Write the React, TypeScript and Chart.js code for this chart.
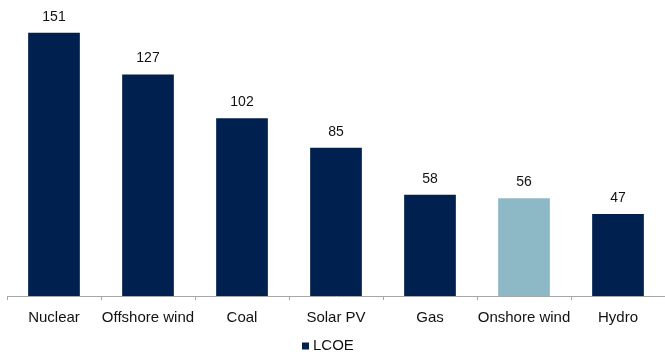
import React, { useEffect, useRef } from "react";
import { Chart, registerables } from "chart.js";

Chart.register(...registerables);

const categories = ["Nuclear", "Offshore wind", "Coal", "Solar PV", "Gas", "Onshore wind", "Hydro"];
const lcoeValues = [151, 127, 102, 85, 58, 56, 47];
const seriesName = "LCOE";

const NAVY = "#002050";
const LIGHT_BLUE = "#8db9c7";
const highlighted = "Onshore wind";
const FONT = "'Liberation Sans', Arial, sans-serif";

// Writes each bar's value centred above it
const valueLabels = {
  id: "valueLabels",
  afterDatasetsDraw(chart: any) {
    const ctx = chart.ctx;
    const meta = chart.getDatasetMeta(0);
    ctx.save();
    ctx.font = `14px ${FONT}`;
    ctx.fillStyle = "#111111";
    ctx.textAlign = "center";
    ctx.textBaseline = "middle";
    meta.data.forEach((bar: any, i: number) => {
      ctx.fillText(String(chart.data.datasets[0].data[i]), bar.x, bar.y - 16);
    });
    ctx.restore();
  },
};

// Small square key with the series name, under the axis labels
const bottomLegend = {
  id: "bottomLegend",
  afterDraw(chart: any) {
    const ctx = chart.ctx;
    ctx.save();
    ctx.font = `15px ${FONT}`;
    const label = chart.data.datasets[0].label;
    const box = 7;
    const gap = 4;
    const x0 = 302;
    const cy = 346;
    ctx.fillStyle = NAVY;
    ctx.fillRect(x0, cy - box / 2, box, box);
    ctx.fillStyle = "#111111";
    ctx.textAlign = "left";
    ctx.textBaseline = "middle";
    ctx.fillText(label, x0 + box + gap, cy);
    ctx.restore();
  },
};

export default function App() {
  const canvasRef = useRef<HTMLCanvasElement | null>(null);

  useEffect(() => {
    if (!canvasRef.current) return;
    const chart = new Chart(canvasRef.current, {
      type: "bar",
      data: {
        labels: categories,
        datasets: [
          {
            label: seriesName,
            data: lcoeValues,
            backgroundColor: categories.map((c) => (c === highlighted ? LIGHT_BLUE : NAVY)),
            borderWidth: 0,
            categoryPercentage: 1,
            barPercentage: 0.55,
          },
        ],
      },
      options: {
        animation: false,
        responsive: false,
        maintainAspectRatio: false,
        layout: { padding: { top: 17, left: 7, right: 0, bottom: 18 } },
        plugins: {
          legend: { display: false },
          tooltip: { enabled: false },
        },
        scales: {
          x: {
            border: { display: true, color: "#a6a6a6", width: 1 },
            grid: {
              display: true,
              drawOnChartArea: false,
              drawTicks: true,
              tickLength: 4,
              color: "#a6a6a6",
              offset: true,
            },
            ticks: {
              color: "#111111",
              font: { family: FONT, size: 15 },
              padding: 9,
              maxRotation: 0,
              autoSkip: false,
            },
          },
          y: {
            display: false,
            min: 0,
            max: 160,
          },
        },
      },
      plugins: [valueLabels, bottomLegend],
    });
    return () => chart.destroy();
  }, []);

  return (
    <div style={{ position: "fixed", left: 0, top: 0, width: 665, height: 354, background: "#ffffff" }}>
      <canvas ref={canvasRef} width={665} height={354} style={{ display: "block" }} />
    </div>
  );
}
